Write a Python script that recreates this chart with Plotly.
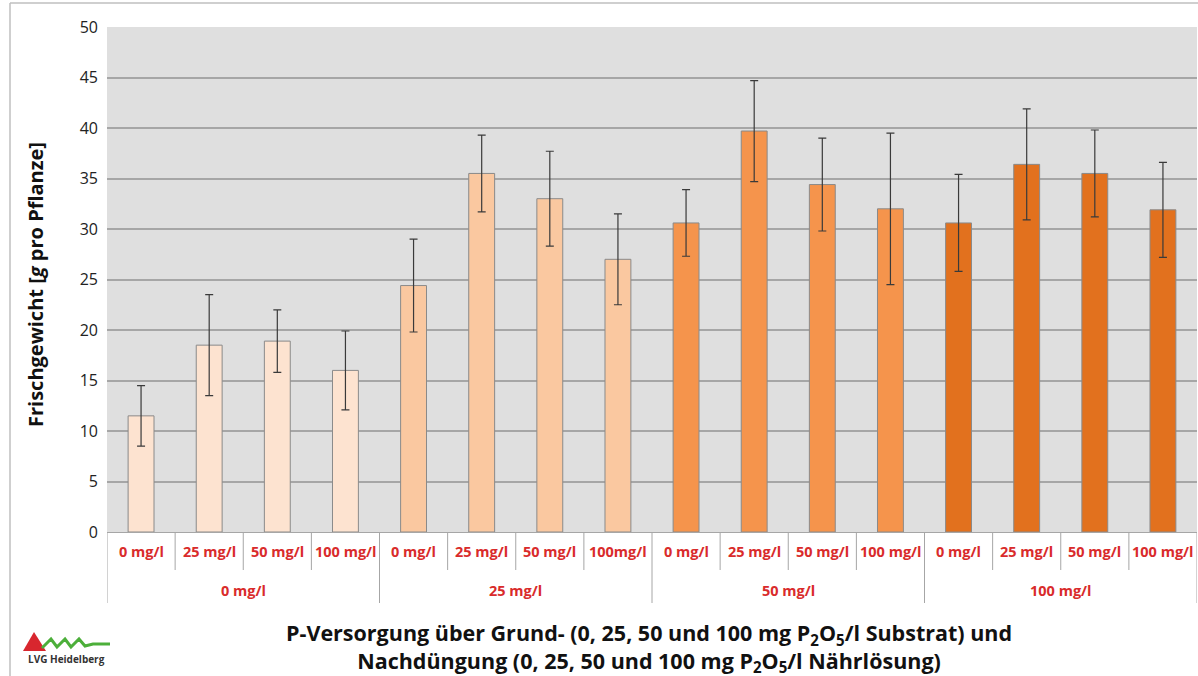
import plotly.graph_objects as go

groups = ["0 mg/l", "25 mg/l", "50 mg/l", "100 mg/l"]
sub_labels = [
    ["0 mg/l", "25 mg/l", "50 mg/l", "100 mg/l"],
    ["0 mg/l", "25 mg/l", "50 mg/l", "100mg/l"],
    ["0 mg/l", "25 mg/l", "50 mg/l", "100 mg/l"],
    ["0 mg/l", "25 mg/l", "50 mg/l", "100 mg/l"],
]
values = [
    [11.5, 18.5, 18.9, 16.0],
    [24.4, 35.5, 33.0, 27.0],
    [30.6, 39.7, 34.4, 32.0],
    [30.6, 36.4, 35.5, 31.9],
]
errors = [
    [3.0, 5.0, 3.1, 3.9],
    [4.6, 3.8, 4.7, 4.5],
    [3.3, 5.0, 4.6, 7.5],
    [4.8, 5.5, 4.3, 4.7],
]
colors = ["#FDE3D0", "#FAC8A0", "#F5944C", "#E2711E"]

FONT = "Open Sans"
RED = "#D92B2B"
GRID = "#A6A6A6"


def px(xr):
    return (xr - 107) / 1090


def py(yr):
    return (532 - yr) / 505


cats = []
for gi in range(len(groups)):
    for si in range(len(sub_labels[gi])):
        cats.append(f"g{gi}s{si}")

fig = go.Figure()
for gi, g in enumerate(groups):
    fig.add_trace(go.Bar(
        x=[f"g{gi}s{si}" for si in range(4)],
        y=values[gi],
        marker=dict(color=colors[gi], line=dict(color="#8A8A8A", width=1)),
        error_y=dict(type="data", array=errors[gi], visible=True,
                     color="#3A3A3A", thickness=1.2, width=4),
        width=0.38,
        showlegend=False,
        hovertext=[f"{g} / {s}" for s in sub_labels[gi]],
    ))

annotations = []
shapes = []
# inner category labels and separators
for gi, g in enumerate(groups):
    for si, s in enumerate(sub_labels[gi]):
        idx = gi * 4 + si
        annotations.append(dict(
            text=f"<b>{s}</b>", xref="x", yref="paper", x=cats[idx], y=py(551),
            showarrow=False, font=dict(family=FONT, size=14.5, color=RED),
            xanchor="center", yanchor="middle"))
        if si > 0:
            shapes.append(dict(type="line", xref="x", yref="paper",
                               x0=idx - 0.5, x1=idx - 0.5, y0=py(532), y1=py(570),
                               line=dict(color=GRID, width=1)))
    annotations.append(dict(
        text=f"<b>{g}</b>", xref="x", yref="paper", x=gi * 4 + 1.5, y=py(590),
        showarrow=False, font=dict(family=FONT, size=14.5, color=RED),
        xanchor="center", yanchor="middle"))
for gi in range(len(groups) + 1):
    shapes.append(dict(type="line", xref="x", yref="paper",
                       x0=gi * 4 - 0.5, x1=gi * 4 - 0.5, y0=py(532), y1=py(603),
                       line=dict(color=GRID, width=1)))

annotations += [
    dict(text="<b>Frischgewicht [<i>g</i> pro Pflanze]</b>", xref="paper", yref="paper",
         x=px(35), y=py(285), textangle=-90, showarrow=False,
         font=dict(family=FONT, size=20, color="#111111"), xanchor="center", yanchor="middle"),
    dict(text="<b>P-Versorgung über Grund- (0, 25, 50 und 100 mg P<sub>2</sub>O<sub>5</sub>/l Substrat) und<br>"
              "Nachdüngung (0, 25, 50 und 100 mg P<sub>2</sub>O<sub>5</sub>/l Nährlösung)</b>",
         xref="paper", yref="paper", x=px(649), y=py(647), showarrow=False,
         font=dict(family=FONT, size=21.5, color="#111111"), xanchor="center", yanchor="middle"),
    dict(text="<b>LVG Heidelberg</b>", xref="paper", yref="paper",
         x=px(66), y=py(659), showarrow=False,
         font=dict(family=FONT, size=10, color="#333333"), xanchor="center", yanchor="middle"),
]

shapes += [
    # outer frame
    dict(type="line", xref="paper", yref="paper", x0=px(10), x1=px(1198), y0=py(3), y1=py(3),
         line=dict(color="#BFBFBF", width=1.5)),
    dict(type="line", xref="paper", yref="paper", x0=px(10), x1=px(10), y0=py(3), y1=py(676),
         line=dict(color="#BFBFBF", width=1.5)),
    # logo triangle
    dict(type="path", xref="paper", yref="paper",
         path=f"M {px(23)} {py(651)} L {px(46)} {py(651)} L {px(34)} {py(632)} Z",
         fillcolor="#D8262E", line=dict(width=0)),
    # logo green zigzag
    dict(type="path", xref="paper", yref="paper",
         path=(f"M {px(42)} {py(648)} L {px(51)} {py(639)} L {px(57)} {py(647)} L {px(65)} {py(639)} "
               f"L {px(71)} {py(647)} L {px(79)} {py(639)} L {px(85)} {py(646)} L {px(93)} {py(644)} L {px(110)} {py(644)}"),
         line=dict(color="#4CAF3A", width=3)),
]

fig.update_layout(
    width=1198, height=676,
    margin=dict(l=107, r=1, t=27, b=144, pad=0),
    paper_bgcolor="white",
    plot_bgcolor="#DFDFDF",
    barmode="group",
    font=dict(family=FONT),
    annotations=annotations,
    shapes=shapes,
    xaxis=dict(
        type="category",
        categoryorder="array", categoryarray=cats,
        range=[-0.5, len(cats) - 0.5],
        showticklabels=False, ticks="",
        showline=True, linecolor=GRID, linewidth=1,
        showgrid=False,
    ),
    yaxis=dict(
        range=[0, 50], dtick=5, tick0=0,
        showgrid=True, gridcolor=GRID, gridwidth=1.5,
        tickfont=dict(family=FONT, size=16, color="#222222"),
        ticks="", ticklabelstandoff=8,
        zeroline=False, showline=False,
    ),
)

fig.write_html(
    "out.html",
    config={"displayModeBar": False},
    post_script=("document.body.style.margin='0';"
                 "document.body.style.overflow='hidden';"
                 "document.documentElement.style.overflow='hidden';"),
)
